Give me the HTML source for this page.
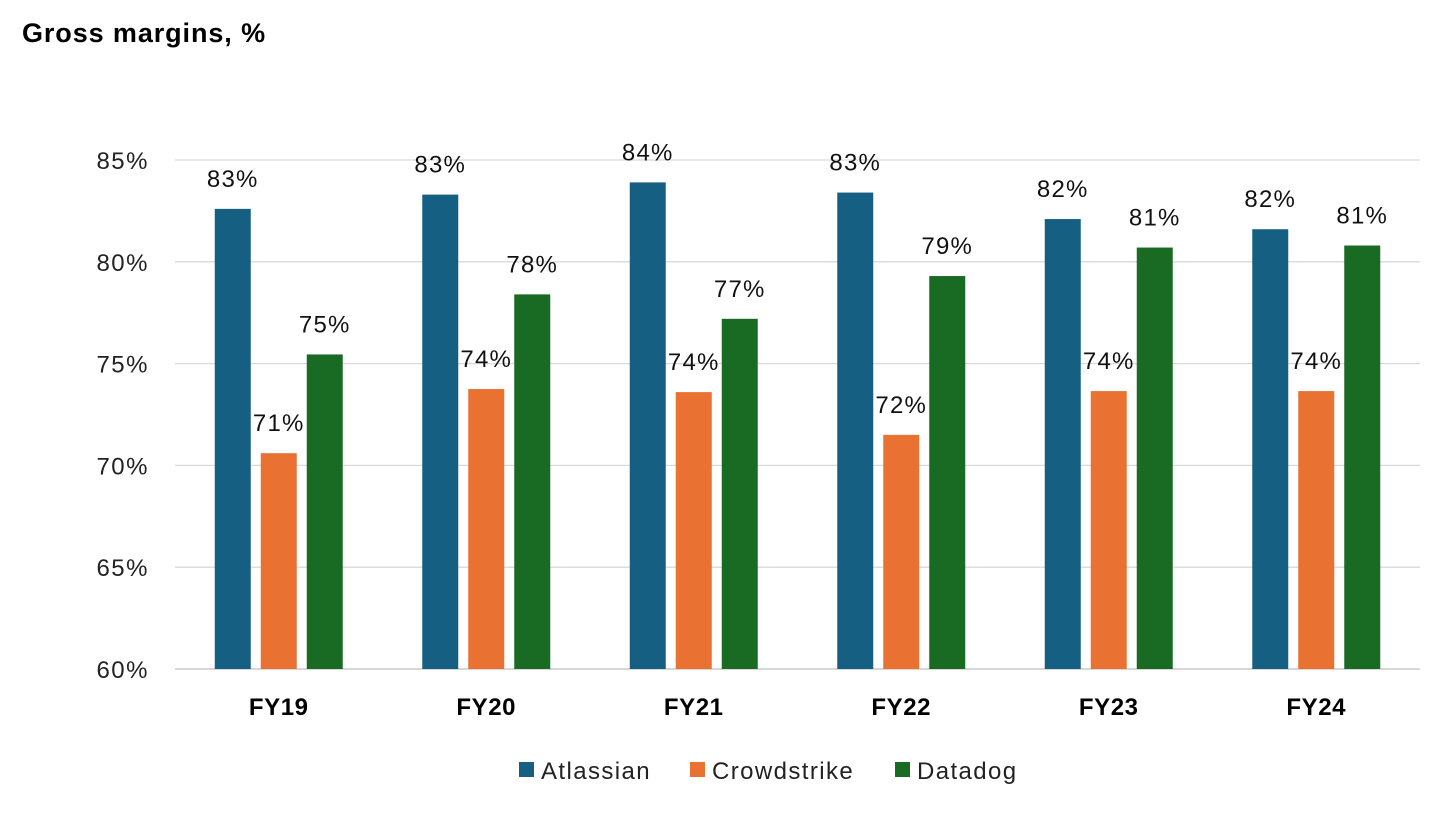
<!DOCTYPE html>
<html><head><meta charset="utf-8"><style>
body{margin:0;background:#fff;font-family:"Liberation Sans",sans-serif;}
svg text{font-family:"Liberation Sans",sans-serif;}
</style></head><body>
<svg id="chart" width="1456" height="817">
<text x="22" y="42" font-size="27" font-weight="bold" letter-spacing="0.9" fill="#000">Gross margins, %</text>
<g id="grid"></g><g id="bars"></g><g id="labels"></g>
<g font-size="24" letter-spacing="1.4">
<rect x="519" y="762" width="15" height="15" fill="#156082"/>
<text x="541" y="779" fill="#222">Atlassian</text>
<rect x="690" y="762" width="15" height="15" fill="#E97132"/>
<text x="712" y="779" fill="#222">Crowdstrike</text>
<rect x="895" y="762" width="15" height="15" fill="#196B24"/>
<text x="917" y="779" fill="#222">Datadog</text>
</g>
</svg>
<script>
const categories=["FY19","FY20","FY21","FY22","FY23","FY24"];
const atlassian=[82.6,83.3,83.9,83.4,82.1,81.6];
const crowdstrike=[70.6,73.75,73.6,71.5,73.65,73.65];
const datadog=[75.45,78.4,77.2,79.3,80.7,80.8];
const yTicks=[60,65,70,75,80,85];
const NS="http://www.w3.org/2000/svg";
const x0=175,x1=1420,yMin=60,yMax=85,py0=669,py1=160;
const y=v=>py0-(v-yMin)/(yMax-yMin)*(py0-py1);
const gw=(x1-x0)/categories.length;
const gx=i=>x0+gw*(i+0.5);
function mk(t,a,p){const e=document.createElementNS(NS,t);for(const k in a)e.setAttribute(k,a[k]);p.appendChild(e);return e;}
const grid=document.getElementById('grid'),bars=document.getElementById('bars'),labels=document.getElementById('labels');
yTicks.forEach(t=>{
 const l=mk('line',{x1:x0,x2:x1,y1:y(t),y2:y(t),stroke:t===60?'#bfbfbf':'#d9d9d9','stroke-width':1.3},grid);
 
 
 const tx=mk('text',{x:149,y:y(t)+9,'font-size':24,'letter-spacing':1.5,'text-anchor':'end',fill:'#222'},grid);
 tx.textContent=t+'%';
 
 
});
const series=[["atlassian",atlassian,"#156082",-46],["crowdstrike",crowdstrike,"#E97132",0],["datadog",datadog,"#196B24",46]];
categories.forEach((c,i)=>{
 const xl=mk('text',{x:gx(i),y:715,'font-size':24,'font-weight':'bold','letter-spacing':0.6,'text-anchor':'middle',fill:'#000'},labels);
 xl.textContent=c;
 
 
 series.forEach(([n,vals,col,off])=>{
  const cx=gx(i)+off,v=vals[i];
  const r=mk('rect',{x:cx-18,y:y(v),width:36,height:py0-y(v),fill:col},bars);
  
  
  const t=mk('text',{x:cx,y:y(v)-22,'font-size':24,'letter-spacing':1.2,'text-anchor':'middle',fill:'#111'},labels);
  t.textContent=Math.round(v)+'%';
  
  
 });
});
</script>
</body></html>
